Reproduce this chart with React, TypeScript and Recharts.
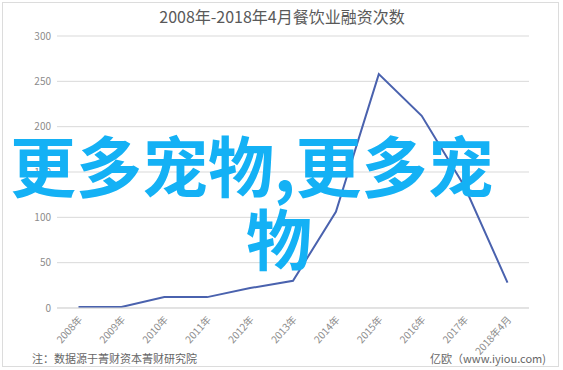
import React from "react";
import { LineChart, Line, XAxis, YAxis, CartesianGrid } from "recharts";

const years = [
  "2008年",
  "2009年",
  "2010年",
  "2011年",
  "2012年",
  "2013年",
  "2014年",
  "2015年",
  "2016年",
  "2017年",
  "2018年4月",
];
const counts = [1, 1, 12, 12, 22, 30, 106, 258, 212, 134, 28];
const yTicks = [0, 50, 100, 150, 200, 250, 300];

const data = years.map((year, i) => ({ year, count: counts[i] }));

const FONT = '"Noto Sans CJK SC", "Noto Sans", sans-serif';

function YearTick({ x, y, payload }: any) {
  return (
    <g transform={`translate(${x},${y})`}>
      <text
        x={0}
        y={0}
        dy={6}
        textAnchor="end"
        transform="rotate(-48)"
        fill="#8c8c8c"
        fontSize={10}
        fontFamily={FONT}
      >
        {payload.value}
      </text>
    </g>
  );
}

export default function App() {
  return (
    <div style={{ position: "relative", width: 563, height: 370, background: "#fff" }}>
      <style>{"body{margin:0}"}</style>
      <div
        style={{
          position: "absolute",
          left: 2,
          top: 2,
          width: 555,
          height: 363,
          border: "1px solid #dcdcdc",
        }}
      />
      <LineChart
        width={563}
        height={370}
        data={data}
        margin={{ top: 36, right: 34, bottom: 22, left: 7 }}
      >
        <text
          x={282}
          y={23}
          textAnchor="middle"
          fill="#595959"
          fontSize={16}
          fontFamily={FONT}
        >
          2008年-2018年4月餐饮业融资次数
        </text>
        <CartesianGrid vertical={false} stroke="#d9d9d9" />
        <XAxis
          dataKey="year"
          axisLine={{ stroke: "#d9d9d9" }}
          tickLine={false}
          padding={{ left: 21.5, right: 21.5 }}
          interval={0}
          height={40}
          tick={<YearTick />}
        />
        <YAxis
          domain={[0, 300]}
          ticks={yTicks}
          axisLine={false}
          tickLine={false}
          tickSize={4}
          width={50}
          tick={{ fill: "#8c8c8c", fontSize: 10, fontFamily: FONT }}
        />
        <Line
          type="linear"
          dataKey="count"
          stroke="#4a62ae"
          strokeWidth={2}
          dot={false}
          isAnimationActive={false}
        />
      </LineChart>
      <div
        style={{
          position: "absolute",
          left: 32,
          top: 350,
          fontSize: 11,
          color: "#666",
          fontFamily: FONT,
          lineHeight: "16px",
        }}
      >
        注：数据源于菁财资本菁财研究院
      </div>
      <div
        style={{
          position: "absolute",
          right: 17,
          top: 350,
          fontSize: 11,
          color: "#666",
          fontFamily: FONT,
          lineHeight: "16px",
        }}
      >
        亿欧（www.iyiou.com)
      </div>
      <svg
        width={563}
        height={370}
        style={{ position: "absolute", left: 0, top: 0, pointerEvents: "none" }}
      >
        <text x={10} y={192} fill="#14b1f5" fontSize={66} fontWeight={700} fontFamily={FONT}>
          更多宠物,更多宠
        </text>
        <text x={246} y={265} fill="#14b1f5" fontSize={66} fontWeight={700} fontFamily={FONT}>
          物
        </text>
      </svg>
    </div>
  );
}
